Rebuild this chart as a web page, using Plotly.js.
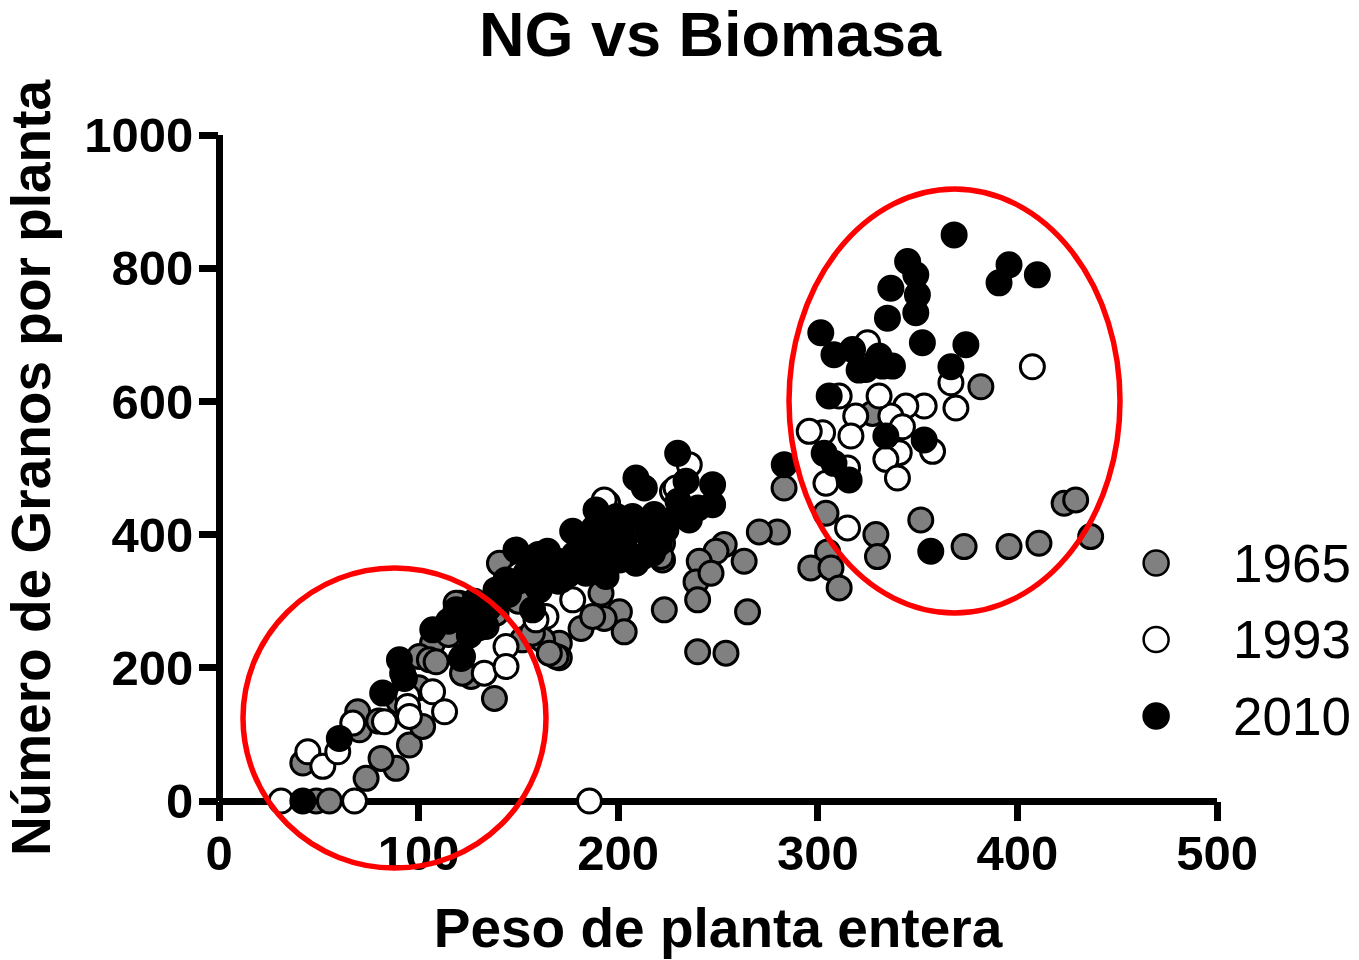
<!DOCTYPE html>
<html>
<head>
<meta charset="utf-8">
<script src="https://cdn.plot.ly/plotly-3.0.1.min.js"></script>
<style>html,body{margin:0;padding:0;background:#fff;}#chart{width:1359px;height:960px;}</style>
</head>
<body>
<div id="chart"></div>
<script>
// ---- Data ----
var seriesNames = ["1965", "1993", "2010"];

var x1965 = [381.7, 327.4, 351.6, 304.1, 279.8, 270.7, 329.1, 329.9, 304.9, 296.5, 306.6, 310.7, 373.3, 395.8, 410.8, 436.7, 423.4, 429.2, 283.1,
  263.1, 264.8, 239.8, 254.0, 253.1, 249.0, 240.6, 239.0, 246.5, 239.8, 223.1, 222.2, 222.2, 221.4,
  200.6, 191.4, 203.0, 181.4, 193.0, 170.5, 170.5, 187.2, 162.1, 168.9, 138.0, 126.3, 140.5, 120.4, 107.0, 100.4, 118.8, 138.8, 152.0, 157.0, 165.5, 122.0, 105.4, 108.8,
  73.7, 88.7, 81.2, 95.4, 102.0, 70.4, 42.0, 48.7, 55.3, 69.5,
  150, 170, 185, 200, 210, 160, 130, 115, 90, 100, 80];
var y1965 = [622, 582, 422, 432, 404, 404, 400, 367, 374, 350, 350, 320, 382, 382, 387, 397, 447, 452, 470,
  360, 284, 224, 222, 385, 375, 360, 329, 342, 302, 287, 362, 387, 367,
  284, 312, 254, 259, 274, 237, 215, 277, 242, 217, 154, 187, 357, 297, 237, 217, 297, 282, 242, 252, 222, 192, 212, 209,
  34, 49, 64, 84, 112, 107, 57, 0, 0, 134,
  300, 330, 350, 380, 400, 320, 260, 250, 150, 170, 120];

var x1993 = [407.5, 324.9, 366.7, 369.2, 353.3, 344.1, 336.6, 330.7, 319.0, 310.7, 316.6, 302.4, 295.7, 340.8, 334.1, 339.9, 357.5, 304.1, 314.9, 314.9, 342.4,
  235.6, 227.2, 194.7, 177.2, 163.8, 158.8, 143.8, 132.9, 143.8, 107.0, 94.5, 113.0, 163.8, 193.0, 229.0,
  44.5, 52.0, 59.5, 67.0, 82.9, 94.5, 31.1, 67.9, 95.4, 185.6,
  150, 180, 210, 170, 125, 205];
var y1993 = [652, 688, 628, 590, 593, 593, 578, 608, 578, 608, 548, 553, 555, 523, 513, 485, 525, 477, 500, 410, 562,
  505, 465, 447, 302, 277, 272, 232, 192, 202, 164, 157, 134, 332, 452, 470,
  74, 52, 74, 117, 119, 142, 0, 0, 127, 0,
  340, 370, 420, 350, 270, 390];

var x2010 = [368.3, 395.8, 410.0, 390.8, 345.0, 349.1, 349.9, 349.1, 336.6, 334.9, 352.4, 374.2, 366.7, 301.5, 308.1, 317.4, 324.1, 332.4, 337.4, 330.7, 320.7, 305.7, 334.1, 353.3, 303.2, 308.1, 315.7, 283.2, 356.6,
  229.8, 208.9, 213.1, 234.0, 247.3, 247.3, 235.6, 188.9, 177.2, 148.8, 164.6, 207.2, 197.2, 190.5, 185.8, 171.4, 157.1, 143.8, 138.8, 120.4, 125.4, 107.1, 121.3, 133.8, 130.4, 153.8, 158.8, 160.5, 90.4, 92.0, 208.9, 200.8, 217.2, 223.9, 220.6, 183.8, 199.2, 192.2, 212.2, 193.9,
  92.9, 82.0, 60.3, 42.0, 122.0, 125.4, 118.8, 132.1,
  115, 128, 140, 150, 165, 170, 178, 182, 195, 203, 215, 225, 240, 230, 160, 175, 135, 145, 188, 218];
var y2010 = [850, 805, 790, 778, 810, 790, 760, 733, 770, 725, 688, 685, 652, 703, 670, 678, 648, 653, 653, 668, 647, 608, 548, 542, 522, 507, 482, 505, 375,
  522, 485, 470, 480, 475, 445, 422, 437, 405, 377, 375, 427, 407, 382, 357, 332, 287, 332, 317, 282, 267, 257, 214, 262, 282, 342, 352, 317, 212, 192, 357, 362, 372, 407, 387, 342, 427, 367, 367, 337,
  184, 162, 94, 0, 217, 249, 287, 277,
  270, 300, 300, 330, 345, 360, 370, 395, 395, 390, 400, 420, 440, 450, 370, 340, 290, 310, 410, 430];

var xTickVals = [0, 100, 200, 300, 400, 500];
var yTickVals = [0, 200, 400, 600, 800, 1000];

// ---- Styling ----
var fills = ["#808080", "#ffffff", "#000000"];
var FONT = "Liberation Sans, Arial, Helvetica, sans-serif";
var xs = [x1965, x1993, x2010];
var ys = [y1965, y1993, y2010];

var traces = [];
for (var i = 0; i < 3; i++) {
  traces.push({
    type: "scatter", mode: "markers", name: seriesNames[i],
    x: xs[i], y: ys[i], cliponaxis: false, showlegend: false,
    marker: {symbol: "circle", size: 24, color: fills[i], line: {color: "#000", width: 3}},
    hoverinfo: "x+y"
  });
}
// custom legend (larger markers than Plotly's built-in legend allows)
var legendAnn = [];
for (var j = 0; j < 3; j++) {
  traces.push({
    type: "scatter", mode: "markers", xaxis: "x2", yaxis: "y2",
    x: [39], y: [j], showlegend: false, cliponaxis: false, hoverinfo: "skip",
    marker: {symbol: "circle", size: 25, color: fills[j], line: {color: "#000", width: 2.5}}
  });
  legendAnn.push({
    xref: "paper", yref: "y2", x: (1231 - 219) / 998, y: j, text: seriesNames[j], showarrow: false,
    xanchor: "left", yanchor: "middle",
    font: {family: FONT, size: 53, color: "#000"}
  });
}

var layout = {
  width: 1359, height: 960,
  paper_bgcolor: "#fff", plot_bgcolor: "#fff",
  margin: {l: 219, r: 142, t: 135, b: 159},
  showlegend: false,
  title: {
    text: "NG vs Biomasa", x: 710 / 1359, xref: "container", xanchor: "center",
    y: 1 - 34 / 960, yref: "container", yanchor: "middle",
    font: {family: FONT, size: 63, color: "#000", weight: "bold"}
  },
  xaxis: {
    range: [0, 500], tickvals: xTickVals, ticktext: xTickVals.map(String),
    showgrid: false, showline: false, zeroline: true, zerolinecolor: "#000", zerolinewidth: 7,
    ticks: "outside", ticklen: 19, tickwidth: 7, tickcolor: "#000", ticklabelstandoff: -10,
    tickfont: {family: FONT, size: 49, color: "#000", weight: "bold"},
    layer: "below traces",
    title: {text: "Peso de planta entera", font: {family: FONT, size: 55, color: "#000", weight: "bold"}, standoff: 29}
  },
  yaxis: {
    range: [0, 1000], tickvals: yTickVals, ticktext: yTickVals.map(String),
    showgrid: false, showline: false, zeroline: true, zerolinecolor: "#000", zerolinewidth: 7,
    ticks: "outside", ticklen: 19, tickwidth: 7, tickcolor: "#000", ticklabelstandoff: -4,
    tickfont: {family: FONT, size: 49, color: "#000", weight: "bold"},
    layer: "below traces",
    title: {text: "Número de Granos por planta", font: {family: FONT, size: 55, color: "#000", weight: "bold"}, standoff: 19}
  },
  xaxis2: {domain: [0.9, 1.0], range: [0, 100], anchor: "y2", visible: false, fixedrange: true},
  yaxis2: {domain: [(801 - 716) / 666, (801 - 563) / 666], range: [2, 0], anchor: "x2", visible: false, fixedrange: true},
  annotations: legendAnn,
  shapes: [
    {type: "circle", xref: "paper", yref: "paper", x0: (243 - 219) / 998, x1: (546 - 219) / 998, y0: (801 - 868) / 666, y1: (801 - 568) / 666,
     line: {color: "#ff0000", width: 5.5}, fillcolor: "rgba(0,0,0,0)", layer: "above"},
    {type: "circle", xref: "paper", yref: "paper", x0: (789 - 219) / 998, x1: (1120 - 219) / 998, y0: (801 - 613) / 666, y1: (801 - 189) / 666,
     line: {color: "#ff0000", width: 5.5}, fillcolor: "rgba(0,0,0,0)", layer: "above"}
  ]
};

Plotly.newPlot("chart", traces, layout, {displayModeBar: false, staticPlot: true});
</script>
</body>
</html>
